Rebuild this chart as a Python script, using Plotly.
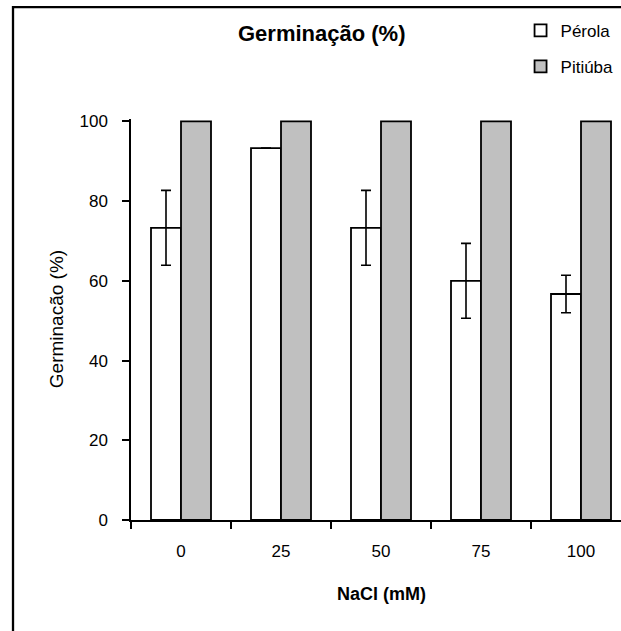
import plotly.graph_objects as go

# NaCl concentrations (mM)
categories = ["0", "25", "50", "75", "100"]

# Germination (%) per cultivar
perola = [73.3, 93.3, 73.3, 60.0, 56.7]
perola_err = [9.4, None, 9.4, 9.4, 4.7]
pitiuba = [100, 100, 100, 100, 100]

y_ticks = [0, 20, 40, 60, 80, 100]

FONT = "Liberation Sans, Arial, sans-serif"

fig = go.Figure()
fig.add_trace(go.Bar(
    x=categories, y=perola, name="Pérola", legendgroup="a",
    marker=dict(color="white", line=dict(color="black", width=1.8)),
    error_y=dict(type="data", array=perola_err, visible=True,
                 color="black", thickness=1.6, width=5),
))
fig.add_trace(go.Bar(
    x=categories, y=pitiuba, name="Pitiúba", legendgroup="b",
    marker=dict(color="#C0C0C0", line=dict(color="black", width=1.8)),
))

fig.update_layout(
    width=621, height=631,
    margin=dict(l=131, r=0, t=119, b=111, autoexpand=False),
    paper_bgcolor="white", plot_bgcolor="white",
    font=dict(family=FONT, size=17, color="black"),
    barmode="group", bargap=0.4, bargroupgap=0,
    showlegend=True,
    legend=dict(x=0.795, xanchor="left", y=1.265, yanchor="top",
                font=dict(size=17), tracegroupgap=11,
                bgcolor="rgba(0,0,0,0)", itemwidth=30),
    xaxis=dict(type="category", range=[-0.5, 4.4], tickson="boundaries",
               ticks="outside", ticklen=7, tickwidth=1.5, tickcolor="black",
               showline=True, linecolor="black", linewidth=1.5,
               showgrid=False, zeroline=False, ticklabelstandoff=15,
               tickfont=dict(size=17)),
    yaxis=dict(range=[0, 100.6], tickvals=y_ticks, ticks="outside",
               ticklen=7, tickwidth=1.5, tickcolor="black",
               showline=True, linecolor="black", linewidth=1.5,
               showgrid=False, zeroline=False, ticklabelstandoff=11,
               tickfont=dict(size=17)),
    annotations=[
        dict(text="<b>Germinação (%)</b>", xref="paper", yref="paper",
             x=0.389, y=1.214, xanchor="center", yanchor="middle",
             showarrow=False, font=dict(size=22)),
        dict(text="<b>NaCl (mM)</b>", xref="paper", yref="paper",
             x=0.5116, y=-0.185, xanchor="center", yanchor="middle",
             showarrow=False, font=dict(size=18)),
        dict(text="Germinacão (%)", xref="paper", yref="paper",
             x=-0.1516, y=0.5, xanchor="center", yanchor="middle",
             textangle=-90, showarrow=False, font=dict(size=19)),
    ],
    shapes=[
        dict(type="rect", xref="paper", yref="paper",
             x0=-0.2408, x1=1.3, y0=-0.6, y1=1.279,
             line=dict(color="black", width=2.3), layer="above"),
    ],
)

fig.write_html("out.html")
